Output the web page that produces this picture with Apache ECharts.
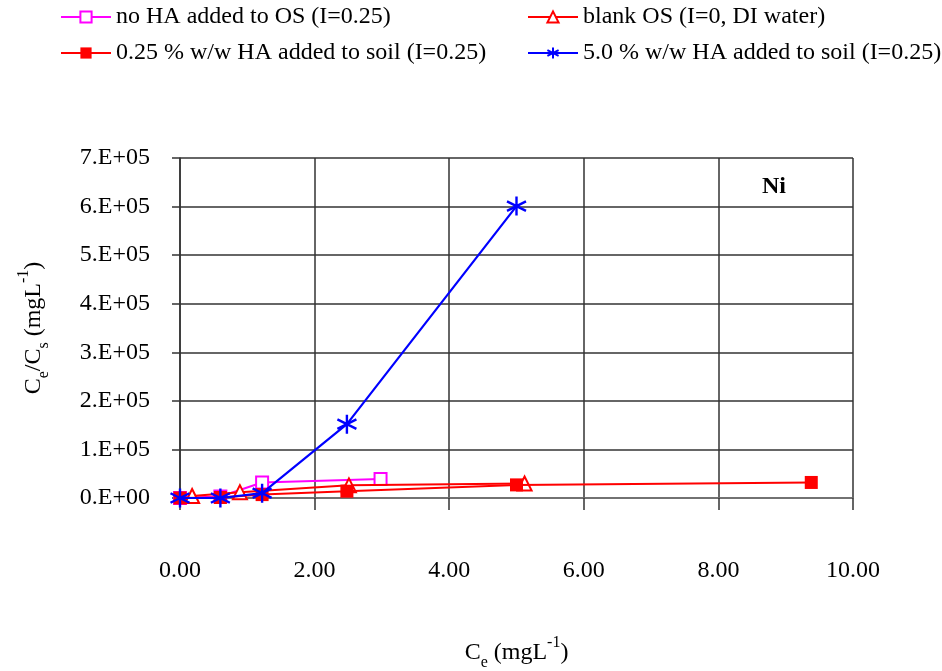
<!DOCTYPE html>
<html>
<head>
<meta charset="utf-8">
<script src="https://cdn.jsdelivr.net/npm/echarts@6/dist/echarts.min.js"></script>
<style>
  html, body { margin: 0; padding: 0; background: #fff; }
  #chart { width: 942px; height: 671px; }
</style>
</head>
<body>
<div id="chart"></div>
<script>
// Ce (mg/L) and Ce/Cs values for each isotherm series (Ni)
const ceNoHA = [0, 0.6, 1.22, 2.98];
const ratioNoHA = [0, 3000, 32000, 39000];

const ceBlank = [0.18, 0.89, 2.51, 5.12];
const ratioBlank = [4000, 12000, 26000, 30000];

const ceHA025 = [0, 0.6, 1.22, 2.48, 5.0, 9.38];
const ratioHA025 = [0, 1000, 7000, 14000, 27000, 32000];

const ceHA50 = [0, 0.6, 1.22, 2.48, 5.0];
const ratioHA50 = [0, 0, 10000, 152000, 601000];

const seriesNames = [
  'no HA added to OS (I=0.25)',
  'blank OS (I=0, DI water)',
  '0.25 % w/w HA added to soil (I=0.25)',
  '5.0 % w/w HA added to soil (I=0.25)'
];

const xTicks = ['0.00', '2.00', '4.00', '6.00', '8.00', '10.00'];
const yTicks = ['0.E+00', '1.E+05', '2.E+05', '3.E+05', '4.E+05', '5.E+05', '6.E+05', '7.E+05'];

const FONT = '"Liberation Serif", "Times New Roman", serif';
const pairs = (xs, ys) => xs.map((x, i) => [x, ys[i]]);

// six-armed asterisk marker
const starPath = 'path://M0,-10 L0,10 M-8.66,-5 L8.66,5 M-8.66,5 L8.66,-5';

const chart = echarts.init(document.getElementById('chart'), null, { renderer: 'canvas' });

const richName = {
  n: { fontFamily: FONT, fontSize: 24, color: '#000', lineHeight: 36 },
  sub: { fontFamily: FONT, fontSize: 16, color: '#000', lineHeight: 14, verticalAlign: 'bottom' },
  sup: { fontFamily: FONT, fontSize: 16, color: '#000', lineHeight: 14, verticalAlign: 'top' }
};

const option = {
  backgroundColor: '#ffffff',
  animation: false,
  textStyle: { fontFamily: FONT, color: '#000' },
  legend: [
    {
      data: [seriesNames[0], seriesNames[2]],
      orient: 'vertical',
      left: 55, top: 0,
      itemWidth: 50, itemHeight: 14, itemGap: 12,
      textStyle: { fontFamily: FONT, fontSize: 24, color: '#000' }
    },
    {
      data: [seriesNames[1], seriesNames[3]],
      orient: 'vertical',
      left: 522, top: 0,
      itemWidth: 50, itemHeight: 14, itemGap: 12,
      textStyle: { fontFamily: FONT, fontSize: 24, color: '#000' }
    }
  ],
  grid: {
    left: 180, right: 942 - 853, top: 158, bottom: 671 - 498,
    containLabel: false,
    outerBoundsMode: 'none'
  },
  xAxis: {
    type: 'value',
    min: 0, max: 10, interval: 2,
    axisLine: { show: true, onZero: false, lineStyle: { color: '#777', width: 1.5 } },
    axisTick: { show: true, inside: false, length: 12, lineStyle: { color: '#333', width: 1.5 } },
    splitLine: { show: true, lineStyle: { color: '#333', width: 1.5 } },
    axisLabel: {
      margin: 61, fontFamily: FONT, fontSize: 24, color: '#000',
      formatter: (v) => xTicks[Math.round(v / 2)]
    },
    name: '{n|C}{sub|e}{n| (mgL}{sup|-1}{n|)}',
    nameLocation: 'middle',
    nameGap: 137,
    nameTextStyle: { rich: richName }
  },
  yAxis: {
    type: 'value',
    min: 0, max: 700000, interval: 100000,
    axisLine: { show: true, lineStyle: { color: '#333', width: 1.5 } },
    axisTick: { show: true, inside: false, length: 8, lineStyle: { color: '#333', width: 1.5 } },
    splitLine: { show: true, lineStyle: { color: '#333', width: 1.5 } },
    axisLabel: {
      margin: 30, fontFamily: FONT, fontSize: 24, color: '#000',
      formatter: (v) => yTicks[Math.round(v / 100000)]
    },
    name: '{n|C}{sub|e}{n|/C}{sub|s}{n| (mgL}{sup|-1}{n|)}',
    nameLocation: 'middle',
    nameRotate: 90,
    nameGap: 128,
    nameTextStyle: { rich: richName }
  },
  graphic: [
    {
      type: 'text',
      left: 762, top: 175,
      style: { text: 'Ni', font: 'bold 24px ' + FONT, fill: '#000' }
    }
  ],
  series: [
    {
      name: seriesNames[0],
      type: 'line',
      data: pairs(ceNoHA, ratioNoHA),
      symbol: 'emptyRect',
      symbolSize: 12,
      lineStyle: { color: '#ff00ff', width: 2 },
      itemStyle: { color: '#ff00ff', borderWidth: 2 },
      z: 2
    },
    {
      name: seriesNames[1],
      type: 'line',
      data: pairs(ceBlank, ratioBlank),
      symbol: 'emptyTriangle',
      symbolSize: 14,
      lineStyle: { color: '#ff0000', width: 2 },
      itemStyle: { color: '#ff0000', borderWidth: 2 },
      z: 3
    },
    {
      name: seriesNames[2],
      type: 'line',
      data: pairs(ceHA025, ratioHA025),
      symbol: 'rect',
      symbolSize: 13,
      lineStyle: { color: '#ff0000', width: 2 },
      itemStyle: { color: '#ff0000' },
      z: 4
    },
    {
      name: seriesNames[3],
      type: 'line',
      data: pairs(ceHA50, ratioHA50),
      symbol: starPath,
      symbolSize: 19,
      lineStyle: { color: '#0000ff', width: 2.2 },
      itemStyle: { color: '#0000ff', borderColor: '#0000ff', borderWidth: 2.4 },
      z: 5
    }
  ]
};

chart.setOption(option);
</script>
</body>
</html>
